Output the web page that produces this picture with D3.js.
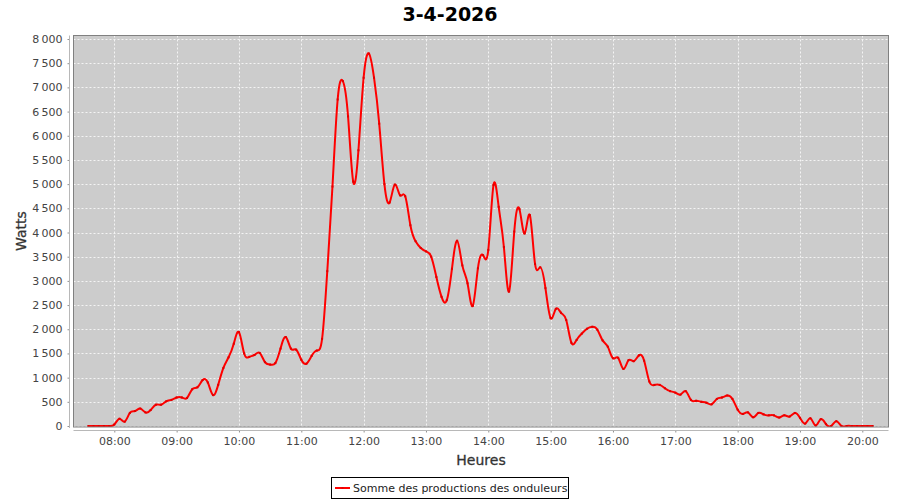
<!DOCTYPE html>
<html>
<head>
<meta charset="utf-8">
<script src="https://cdn.jsdelivr.net/npm/d3@7"></script>
<style>
    body { margin: 0; background: #fff; }
    svg { display: block; font-family: "DejaVu Sans", sans-serif; }
</style>
</head>
<body>
<div id="chart"></div>
<script>
// releves toutes les 5 minutes, a partir de 07:35
var startTime = '07:35';
var stepMinutes = 5;
var watts = [
    0, 0, 0, 0, 0,
    30, 150, 90, 270, 310, 360, 280, 330, 440, 440, 510, 540,
    590, 590, 580, 760, 800, 950, 900, 640, 850, 1200, 1420, 1700,
    1940, 1500, 1430, 1470, 1510, 1320, 1270, 1300, 1600, 1840, 1600, 1580,
    1370, 1290, 1450, 1560, 1800, 3200, 4950, 6750, 7130, 6400, 5050, 5700,
    7200, 7700, 7200, 6250, 5000, 4620, 4990, 4770, 4750, 4150, 3820, 3680,
    3610, 3500, 3080, 2670, 2600, 3250, 3830, 3320, 2950, 2480, 3260, 3530,
    3640, 4980, 4530, 3700, 2780, 4020, 4480, 3980, 4360, 3350, 3280, 2850,
    2230, 2420, 2340, 2190, 1720, 1780, 1910, 2010, 2050, 1990, 1770, 1640,
    1400, 1410, 1180, 1360, 1340, 1460, 1350, 920, 850, 850, 780, 720,
    690, 650, 720, 540, 520, 500, 480, 450, 560, 590, 630, 560,
    340, 250, 280, 180, 270, 240, 220, 220, 175, 220, 195, 270,
    170, 50, 160, 10, 140, 40, 0, 100, 0, 0, 0, 0,
    0, 0, 0
];
var hourTicks = ['08:00', '09:00', '10:00', '11:00', '12:00', '13:00', '14:00',
    '15:00', '16:00', '17:00', '18:00', '19:00', '20:00'];
var wattTicks = [0, 500, 1000, 1500, 2000, 2500, 3000, 3500, 4000,
    4500, 5000, 5500, 6000, 6500, 7000, 7500, 8000];
var title = '3-4-2026';
var seriesName = 'Somme des productions des onduleurs';

var W = 900, H = 500;
var plot = { left: 73.5, right: 888.5, top: 35.5, bottom: 427 };

var parseTime = d3.timeParse('%H:%M');
var t0 = parseTime(startTime);
var data = watts.map(function (v, i) {
    return { t: d3.timeMinute.offset(t0, i * stepMinutes), v: v };
});

var x = d3.scaleTime()
    .domain([parseTime('08:00'), parseTime('20:00')])
    .range([114.3, 862.3]);
var y = d3.scaleLinear().domain([0, 8000]).range([426, 39]);

var fr = d3.formatLocale({ decimal: ',', thousands: '\u202f', grouping: [3], currency: ['', ' €'] });
var fmt = fr.format(',d');

var svg = d3.select('#chart').append('svg').attr('width', W).attr('height', H);

svg.append('text')
    .attr('x', W / 2).attr('y', 21)
    .attr('text-anchor', 'middle')
    .style('font-size', '19px').style('font-weight', 'bold').style('fill', '#000')
    .text(title);

// fond du graphe
svg.append('rect')
    .attr('x', plot.left).attr('y', plot.top)
    .attr('width', plot.right - plot.left).attr('height', plot.bottom - plot.top)
    .attr('fill', '#cccccc');

var grid = svg.append('g').attr('class', 'grid')
    .attr('stroke', '#f4f4f4').attr('stroke-width', 1).attr('stroke-dasharray', '2,2');
grid.selectAll('line.h').data(wattTicks).enter().append('line')
    .attr('x1', plot.left).attr('x2', plot.right)
    .attr('y1', function (d) { return Math.round(y(d)) + 0.5; })
    .attr('y2', function (d) { return Math.round(y(d)) + 0.5; });
grid.selectAll('line.v').data(hourTicks).enter().append('line')
    .attr('y1', plot.top).attr('y2', plot.bottom)
    .attr('x1', function (d) { return Math.round(x(parseTime(d))) + 0.5; })
    .attr('x2', function (d) { return Math.round(x(parseTime(d))) + 0.5; });

svg.append('clipPath').attr('id', 'clip').append('rect')
    .attr('x', plot.left).attr('y', plot.top)
    .attr('width', plot.right - plot.left).attr('height', plot.bottom - plot.top);

var line = d3.line()
    .x(function (d) { return x(d.t); })
    .y(function (d) { return y(d.v); })
    .curve(d3.curveNatural);

var series = svg.append('g').attr('clip-path', 'url(#clip)');
series.append('path')
    .datum(data)
    .attr('d', line)
    .attr('fill', 'none')
    .attr('stroke', '#ff0000')
    .attr('stroke-width', 2);
series.selectAll('rect.pt').data(data).enter().append('rect')
    .attr('x', function (d) { return x(d.t) - 1; })
    .attr('y', function (d) { return y(d.v) - 1; })
    .attr('width', 2).attr('height', 2)
    .attr('fill', '#e00000');

svg.append('rect')
    .attr('x', plot.left).attr('y', plot.top)
    .attr('width', plot.right - plot.left).attr('height', plot.bottom - plot.top)
    .attr('fill', 'none').attr('stroke', '#808080');

// axes
var yAxis = d3.axisLeft(y).tickValues(wattTicks).tickFormat(fmt).tickSize(2).tickPadding(5);
var gy = svg.append('g').attr('transform', 'translate(69.5,0)').call(yAxis);
gy.select('.domain').remove();
gy.append('line').attr('x1', 0).attr('x2', 0).attr('y1', plot.top).attr('y2', plot.bottom + 1)
    .attr('stroke', '#b8b8b8');

var xAxis = d3.axisBottom(x).tickValues(hourTicks.map(parseTime))
    .tickFormat(d3.timeFormat('%H:%M')).tickSize(2).tickPadding(5);
var gx = svg.append('g').attr('transform', 'translate(0,430.5)').call(xAxis);
gx.select('.domain').remove();
gx.append('line').attr('x1', plot.left).attr('x2', plot.right).attr('y1', 0).attr('y2', 0)
    .attr('stroke', '#b8b8b8');

[gx, gy].forEach(function (g) {
    g.selectAll('.tick line').attr('stroke', '#909090');
    g.selectAll('.tick text').style('font-size', '11px').style('fill', '#444')
        .style('font-family', '"DejaVu Sans", sans-serif');
});

svg.append('text')
    .attr('x', (plot.left + plot.right) / 2).attr('y', 465)
    .attr('text-anchor', 'middle')
    .style('font-size', '14px').style('fill', '#333')
    .style('stroke', '#333').style('stroke-width', 0.3)
    .text('Heures');
svg.append('text')
    .attr('transform', 'translate(26,231) rotate(-90)')
    .attr('text-anchor', 'middle')
    .style('font-size', '14px').style('fill', '#333')
    .style('stroke', '#333').style('stroke-width', 0.3)
    .text('Watts');

// legende
var legend = svg.append('g');
legend.append('rect')
    .attr('x', 331.5).attr('y', 477.5).attr('width', 237).attr('height', 21)
    .attr('fill', '#fff').attr('stroke', '#000');
legend.append('line')
    .attr('x1', 335).attr('x2', 350).attr('y1', 488).attr('y2', 488)
    .attr('stroke', '#ff0000').attr('stroke-width', 2);
legend.append('rect')
    .attr('x', 341.5).attr('y', 487).attr('width', 2).attr('height', 2).attr('fill', '#e00000');
legend.append('text')
    .attr('x', 353).attr('y', 492)
    .style('font-size', '11px').style('fill', '#222')
    .text(seriesName);
</script>
</body>
</html>
